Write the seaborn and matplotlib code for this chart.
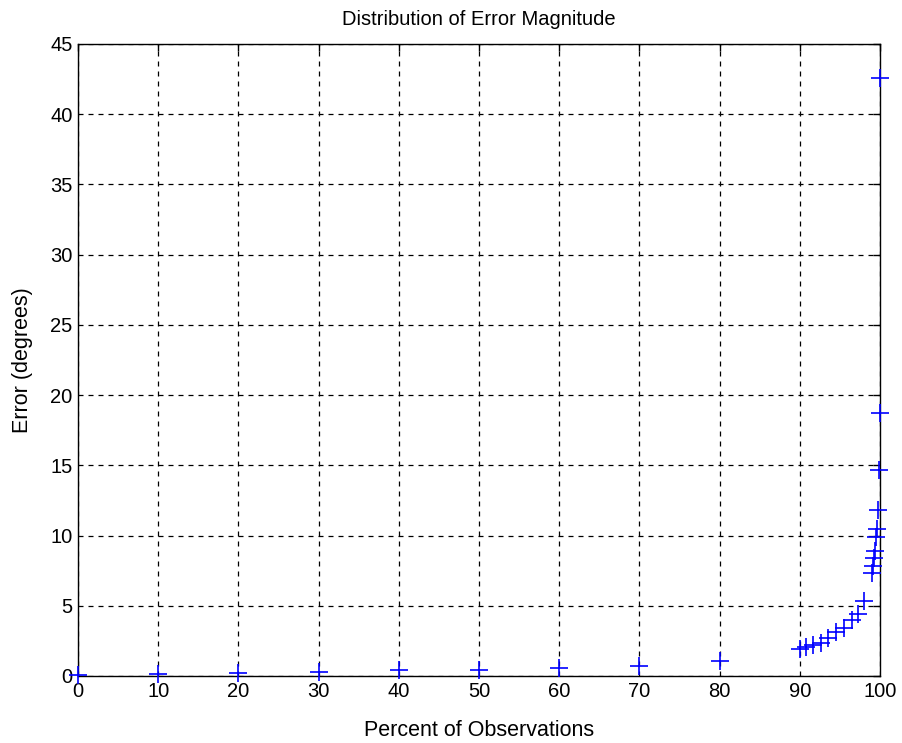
import matplotlib
matplotlib.use("Agg")
import matplotlib.pyplot as plt
import seaborn as sns
import pandas as pd

percent = [0, 10, 20, 30, 40, 50, 60, 70, 80,
           90, 90.8, 91.7, 92.6, 93.5, 94.5, 95.5, 96.5, 97.3, 98.0,
           99.0, 99.1, 99.3, 99.4, 99.5, 99.7, 99.8, 99.9, 99.95, 100]
error = [0.05, 0.15, 0.2, 0.3, 0.4, 0.45, 0.55, 0.68, 1.08,
         1.9, 2.07, 2.2, 2.38, 2.72, 3.1, 3.45, 4.0, 4.4, 5.35,
         7.3, 7.85, 8.4, 8.9, 9.9, 10.5, 11.8, 14.7, 18.7, 42.6]

xticks = list(range(0, 101, 10))
yticks = list(range(0, 46, 5))

sns.set_style("white")
plt.rcParams['font.family'] = ['Liberation Sans', 'DejaVu Sans']
plt.rcParams['text.color'] = 'black'
plt.rcParams['axes.labelcolor'] = 'black'

df = pd.DataFrame({"percent": percent, "error": error})

fig = plt.figure(figsize=(9.02, 7.43), dpi=100)
ax = fig.add_axes([0.0865, 0.0902, 0.889, 0.8506])

sns.scatterplot(data=df, x="percent", y="error", marker="+", s=150,
                color="blue", linewidth=1.2, ax=ax, zorder=3, clip_on=False)

ax.set_xlim(0, 100)
ax.set_ylim(0, 45)
ax.set_xticks(xticks)
ax.set_yticks(yticks)
ax.tick_params(direction="in", length=5, width=1, top=True, right=True,
               labelsize=14.5, pad=4, colors="black")
ax.grid(True, color="black", linestyle=(0, (4, 4)), linewidth=0.9)
for sp in ax.spines.values():
    sp.set_color("black")
    sp.set_linewidth(1)
    sp.set_visible(True)

ax.set_title("Distribution of Error Magnitude", fontsize=14.5, pad=14, color="black")
ax.set_xlabel("Percent of Observations", fontsize=15.5, labelpad=14)
ax.set_ylabel("Error (degrees)", fontsize=15.5, labelpad=12)

fig.savefig("out.png", dpi=100)
